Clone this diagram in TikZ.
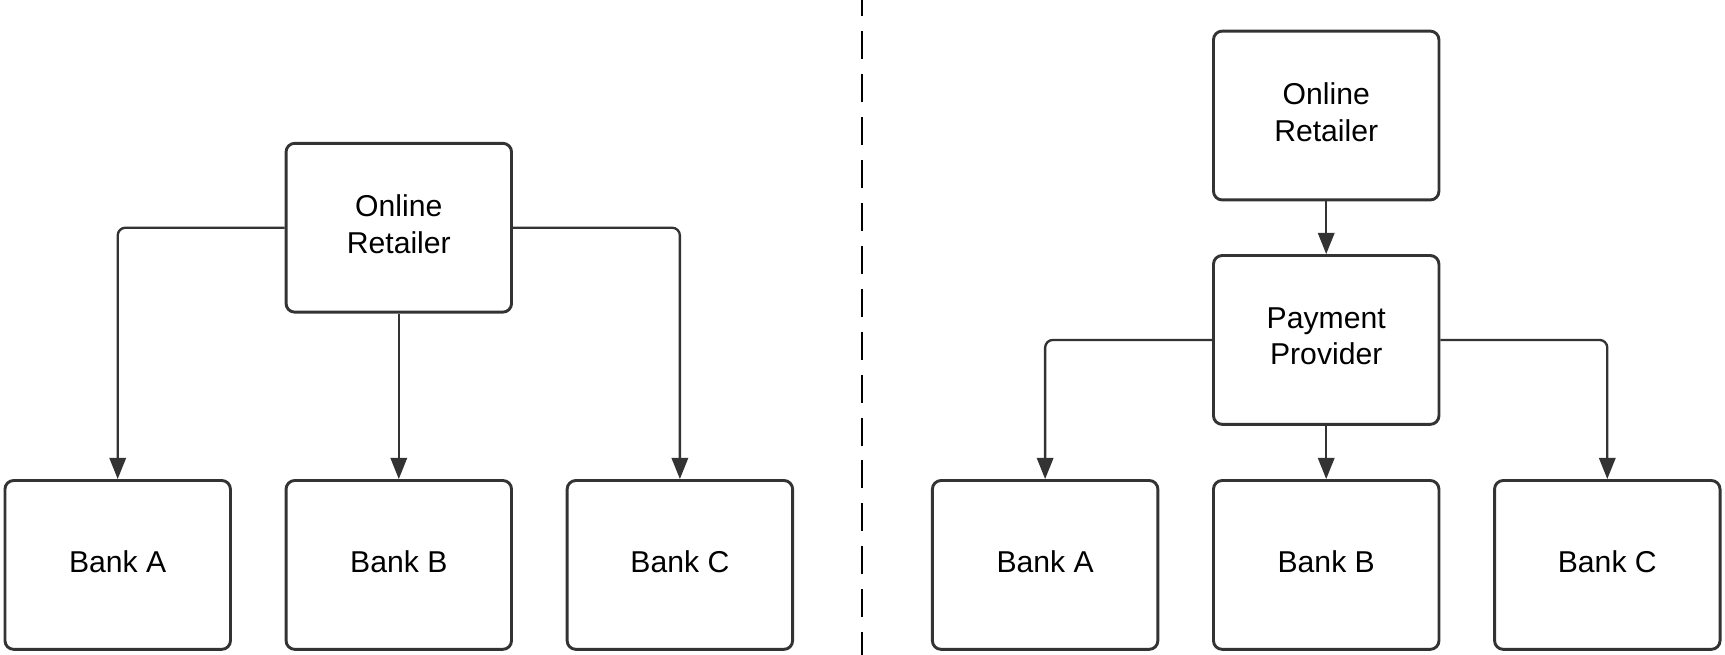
\documentclass[tikz,border=0pt]{standalone}
\usepackage{xcolor}
\usepackage{fontspec}
\setmainfont{Liberation Sans}
\usetikzlibrary{arrows.meta}

\definecolor{inkgray}{HTML}{333333}

\begin{document}
\begin{tikzpicture}[x=0.02cm,y=-0.02cm,
                box/.style={draw=inkgray,line width=1.5pt,rounded corners=4.5pt,fill=white,
                        minimum width=4.1cm,minimum height=3.07cm,align=center,text depth=0.13cm,
                        font=\fontsize{15.6}{18.8}\selectfont},
                link/.style={draw=inkgray,line width=1.2pt,rounded corners=4pt,
                        -{Triangle[length=11pt,width=8.5pt]}}]
                \useasboundingbox (0,0) rectangle (1568,595);

                % left: retailer talks to every bank
                \node[box] (shopL) at (362.5,207) {Online\\Retailer};
                \node[box] (bankLA) at (107,513.5) {Bank A};
                \node[box] (bankLB) at (362.5,513.5) {Bank B};
                \node[box] (bankLC) at (618,513.5) {Bank C};

                \draw[link] (shopL.west) -| (bankLA.north);
                \draw[link] (shopL.south) -- (bankLB.north);
                \draw[link] (shopL.east) -| (bankLC.north);

                % divider
                \coordinate (cutTop) at (783.5,0);
                \coordinate (cutBot) at (783.5,595);
                \draw[black,line width=1.1pt,dash pattern=on 14.5pt off 7.7pt,dash phase=6pt] (cutTop) -- (cutBot);

                % right: retailer goes through a payment provider
                \node[box] (shopR) at (1205.5,105) {Online\\Retailer};
                \node[box] (payR) at (1205.5,309) {Payment\\Provider};
                \node[box] (bankRA) at (950,513.5) {Bank A};
                \node[box] (bankRB) at (1205.5,513.5) {Bank B};
                \node[box] (bankRC) at (1461,513.5) {Bank C};

                \draw[link] (shopR.south) -- (payR.north);
                \draw[link] (payR.west) -| (bankRA.north);
                \draw[link] (payR.south) -- (bankRB.north);
                \draw[link] (payR.east) -| (bankRC.north);
            \end{tikzpicture}
\end{document}
